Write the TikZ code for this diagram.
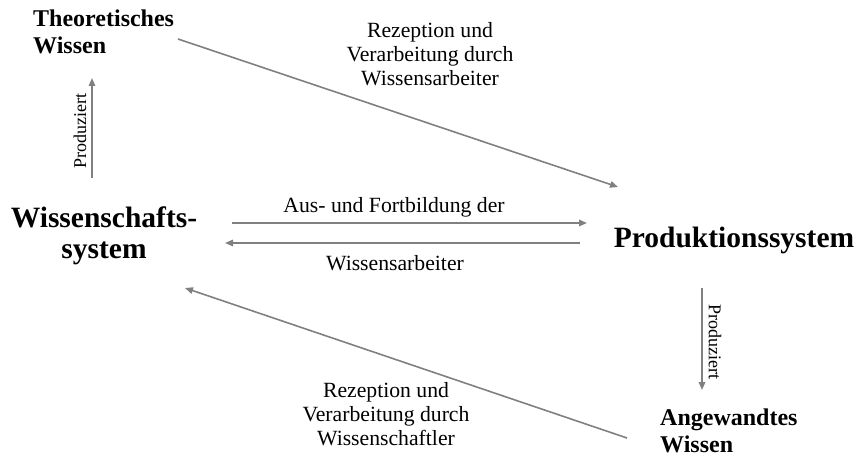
\documentclass[tikz,border=0pt]{standalone}
\usepackage{fontspec}
\setmainfont{Liberation Serif}
\usetikzlibrary{arrows.meta}
\definecolor{flowgray}{RGB}{128,128,128}
\tikzset{
  flow/.style={draw=flowgray, line width=1.6pt, -{Triangle[length=8pt,width=6.5pt]}},
  system/.style={font=\fontsize{29.5}{31}\selectfont\bfseries, align=center, inner sep=0pt},
  wissen/.style={font=\fontsize{24}{27}\selectfont\bfseries, align=left, inner sep=0pt},
  caption/.style={font=\fontsize{21.7}{24}\selectfont, align=center, inner sep=0pt},
  produziert/.style={font=\fontsize{18}{20}\selectfont, inner sep=0pt}
}

\begin{document}
\begin{tikzpicture}[x=1pt, y=-1pt]
\useasboundingbox (0,0) rectangle (858,457);
% systems (base = last line)
\node[system, anchor=base] (wsys) at (104,258) {Wissenschafts-\\system};
\node[system, anchor=base] (psys) at (734,247) {Produktionssystem};
% kinds of knowledge
\node[wissen, anchor=base west] (theo) at (33,54) {Theoretisches\\Wissen};
\node[wissen, anchor=base west] (angew) at (660,452) {Angewandtes\\Wissen};
% labels
\node[caption, anchor=base] (rezArb) at (430,86) {Rezeption und\\Verarbeitung durch\\Wissensarbeiter};
\node[caption, anchor=base] (aus) at (394,212) {Aus- und Fortbildung der};
\node[caption, anchor=base] (arb) at (395,270) {Wissensarbeiter};
\node[caption, anchor=base] (rezWiss) at (386,445) {Rezeption und\\Verarbeitung durch\\Wissenschaftler};
\node[produziert, rotate=90] (prodL) at (80,131) {Produziert};
\node[produziert, rotate=-90] (prodR) at (715,342) {Produziert};
% arrow ends
\coordinate (theoOut) at (178,39);
\coordinate (psysInA) at (618,187);
\coordinate (wsysOut) at (232,223);
\coordinate (psysInB) at (587,223);
\coordinate (psysOut) at (580,243);
\coordinate (wsysInA) at (225,243);
\coordinate (angewOut) at (627,438);
\coordinate (wsysInB) at (185,288);
\coordinate (wsysTop) at (92,178);
\coordinate (theoBot) at (92,78);
\coordinate (psysBot) at (702,288);
\coordinate (angewTop) at (702,390);
\draw[flow] (theoOut) -- (psysInA);
\draw[flow] (wsysOut) -- (psysInB);
\draw[flow] (psysOut) -- (wsysInA);
\draw[flow] (angewOut) -- (wsysInB);
\draw[flow] (wsysTop) -- (theoBot);
\draw[flow] (psysBot) -- (angewTop);
\end{tikzpicture}
\end{document}
